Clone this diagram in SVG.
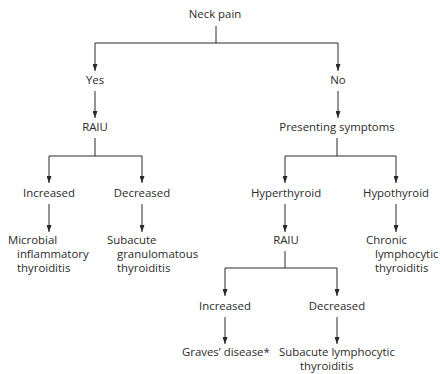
<svg xmlns="http://www.w3.org/2000/svg" width="440" height="374" viewBox="0 0 440 374">
<defs>
<marker id="ah" viewBox="0 0 7 5" refX="7" refY="2.5" markerWidth="7" markerHeight="5" markerUnits="userSpaceOnUse" orient="auto">
<path d="M0,0 L7,2.5 L0,5 z" fill="#2a2a2a"/>
</marker>
<style>
.t{font-family:"Open Sans","Liberation Sans",sans-serif;font-size:11.4px;fill:#2a2a2a}
.c{text-anchor:middle}
.l{fill:none;stroke:#2a2a2a;stroke-width:1}
.a{marker-end:url(#ah)}
</style>
</defs>
<rect width="440" height="374" fill="#fff"/>
<g id="connectors">
<path class="l" d="M216,26 V43 M95,43 H338"/>
<path class="l a" d="M95,43 V71"/>
<path class="l a" d="M338,43 V71"/>
<path class="l a" d="M95,91 V118"/>
<path class="l a" d="M338,91 V118"/>
<path class="l" d="M95,138 V156 M49,156 H142"/>
<path class="l a" d="M49,156 V183"/>
<path class="l a" d="M142,156 V183"/>
<path class="l" d="M337,138 V156 M285,156 H396"/>
<path class="l a" d="M285,156 V183"/>
<path class="l a" d="M396,156 V183"/>
<path class="l a" d="M49,204 V232"/>
<path class="l a" d="M142,204 V232"/>
<path class="l a" d="M285,204 V232"/>
<path class="l a" d="M396,204 V232"/>
<path class="l" d="M285,251 V268 M225,268 H337"/>
<path class="l a" d="M225,268 V296"/>
<path class="l a" d="M337,268 V296"/>
<path class="l a" d="M225,317 V344"/>
<path class="l a" d="M337,317 V344"/>
</g>
<g id="neck-pain"><text class="t c" x="215" y="18">Neck pain</text></g>
<g id="yes"><text class="t c" x="95" y="84">Yes</text></g>
<g id="no"><text class="t c" x="338" y="84">No</text></g>
<g id="raiu1"><text class="t c" x="95" y="131">RAIU</text></g>
<g id="presenting"><text class="t c" x="337" y="131">Presenting symptoms</text></g>
<g id="increased1"><text class="t c" x="49" y="197">Increased</text></g>
<g id="decreased1"><text class="t c" x="142" y="197">Decreased</text></g>
<g id="hyperthyroid"><text class="t c" x="286" y="197">Hyperthyroid</text></g>
<g id="hypothyroid"><text class="t c" x="396" y="197">Hypothyroid</text></g>
<g id="microbial"><text class="t" x="8" y="244">Microbial</text><text class="t" x="17" y="258">inflammatory</text><text class="t" x="17" y="272">thyroiditis</text></g>
<g id="granulomatous"><text class="t" x="107" y="244">Subacute</text><text class="t" x="117" y="258">granulomatous</text><text class="t" x="117" y="272">thyroiditis</text></g>
<g id="raiu2"><text class="t c" x="286" y="244">RAIU</text></g>
<g id="chronic"><text class="t" x="366" y="244">Chronic</text><text class="t" x="375" y="258">lymphocytic</text><text class="t" x="375" y="272">thyroiditis</text></g>
<g id="increased2"><text class="t c" x="225" y="310">Increased</text></g>
<g id="decreased2"><text class="t c" x="337" y="310">Decreased</text></g>
<g id="graves"><text class="t" x="182" y="356">Graves’ disease*</text></g>
<g id="subacute-lymph"><text class="t" x="279" y="356">Subacute lymphocytic</text><text class="t" x="300" y="370">thyroiditis</text></g>
</svg>
